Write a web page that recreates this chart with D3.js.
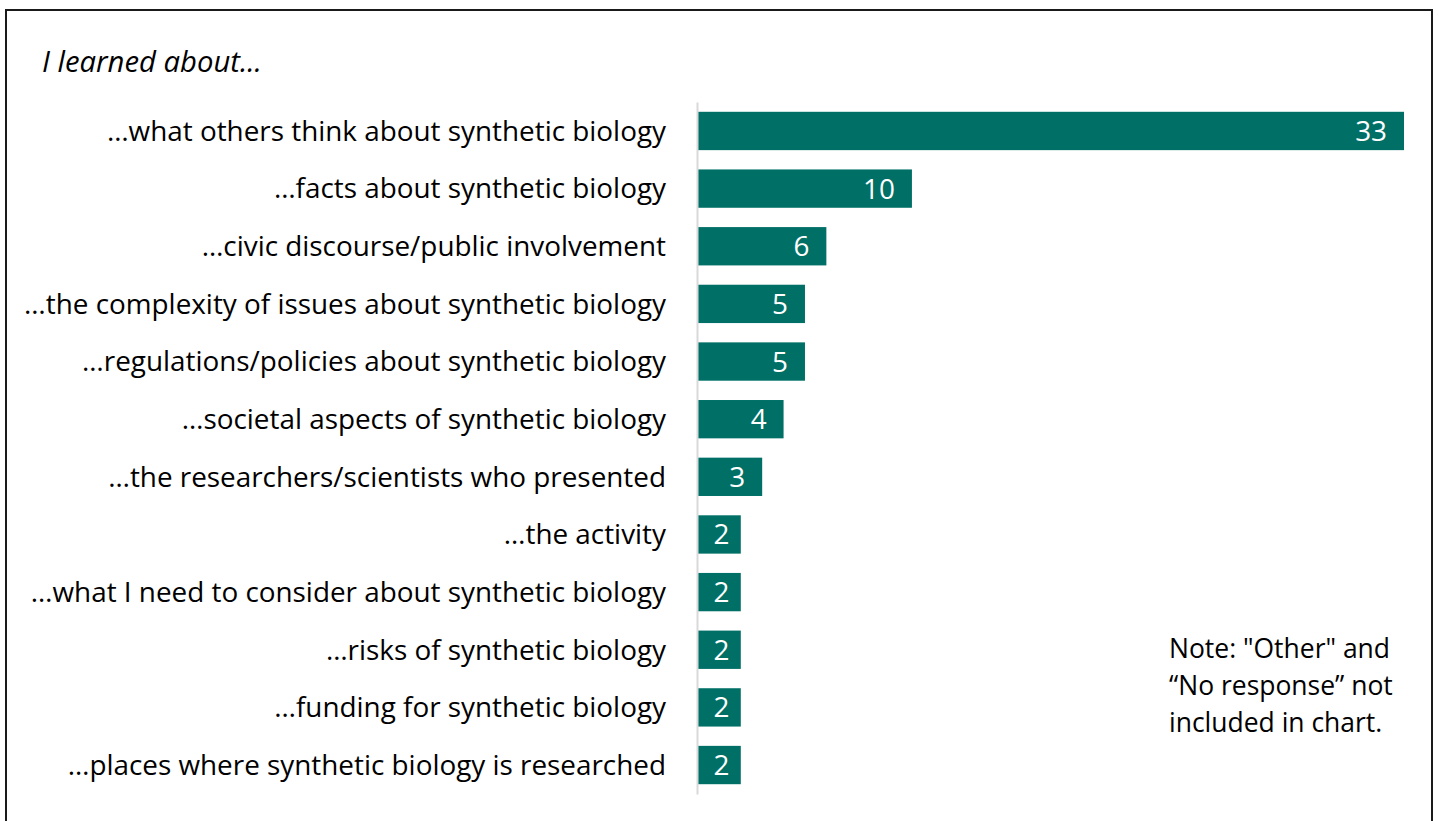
<!DOCTYPE html>
<html>
<head>
<meta charset="utf-8">
<script src="https://cdn.jsdelivr.net/npm/d3@7"></script>
<style>
  html, body { margin: 0; padding: 0; background: #fff; }
  svg { display: block; font-family: "Open Sans", Lato, sans-serif; }
</style>
</head>
<body>
<div class="chart"></div>
<script>
const categories = [
    '…what others think about synthetic biology',
    '…facts about synthetic biology',
    '…civic discourse/public involvement',
    '…the complexity of issues about synthetic biology',
    '…regulations/policies about synthetic biology',
    '…societal aspects of synthetic biology',
    '…the researchers/scientists who presented',
    '…the activity',
    '…what I need to consider about synthetic biology',
    '…risks of synthetic biology',
    '…funding for synthetic biology',
    '…places where synthetic biology is researched'
];
const counts = [33, 10, 6, 5, 5, 4, 3, 2, 2, 2, 2, 2];
const title = 'I learned about...';
const noteLines = ['Note: "Other" and', '“No response” not', 'included in chart.'];

const barColor = '#007066';
const fontFamily = '"Open Sans", Lato, sans-serif';
const outerWidth = 1439;
const outerHeight = 821;

const svg = d3.select('.chart').append('svg')
    .attr('width', outerWidth)
    .attr('height', outerHeight);

// pick a font size so the longest label spans about what it does in the picture
const probe = svg.append('text')
    .attr('font-size', 25)
    .text(categories[3]);
const probeW = probe.node().getComputedTextLength();
probe.remove();
const fontSize = 25 * 642 / probeW;

// frame
svg.append('rect')
    .attr('x', 6).attr('y', 10)
    .attr('width', 1426).attr('height', 830)
    .attr('fill', 'none')
    .attr('stroke', '#1a1a1a')
    .attr('stroke-width', 2);

// scales
const x = d3.scaleLinear().domain([0, 33]).range([698, 1404]);
const y = d3.scaleBand().domain(categories).range([102, 794])
    .paddingInner(0.335).paddingOuter(0.17);

// title
svg.append('text')
    .attr('x', 42).attr('y', 72)
    .attr('font-size', fontSize * 1.05)
    .attr('font-style', 'italic')
    .attr('fill', '#000')
    .text(title);

// bars
svg.append('g').selectAll('rect')
    .data(counts)
    .join('rect')
    .attr('x', x(0))
    .attr('y', (d, i) => y(categories[i]))
    .attr('width', d => x(d) - x(0))
    .attr('height', y.bandwidth())
    .attr('fill', barColor);

// category axis
const yAxis = d3.axisLeft(y).tickSize(0).tickPadding(31);
const gy = svg.append('g')
    .attr('transform', `translate(${x(0) - 1}, 0)`)
    .call(yAxis);
gy.select('.domain').attr('stroke', '#d9d9d9').attr('stroke-width', 2);
gy.selectAll('.tick text')
    .attr('font-size', fontSize)
    .attr('font-family', fontFamily)
    .attr('fill', '#000')
    .attr('dy', '0.35em');

// value labels
svg.append('g').selectAll('text')
    .data(counts)
    .join('text')
    .attr('x', d => (x(d) - x(0) < 50) ? (x(0) + x(d)) / 2 + 2 : x(d) - 17)
    .attr('y', (d, i) => y(categories[i]) + y.bandwidth() / 2)
    .attr('dy', '0.36em')
    .attr('text-anchor', d => (x(d) - x(0) < 50) ? 'middle' : 'end')
    .attr('font-size', fontSize)
    .attr('fill', '#fff')
    .text(d => d);

// note
svg.append('g').selectAll('text')
    .data(noteLines)
    .join('text')
    .attr('x', 1169)
    .attr('y', (d, i) => 658 + i * 37)
    .attr('font-size', fontSize * 0.95)
    .attr('fill', '#000')
    .text(d => d);
</script>
</body>
</html>
